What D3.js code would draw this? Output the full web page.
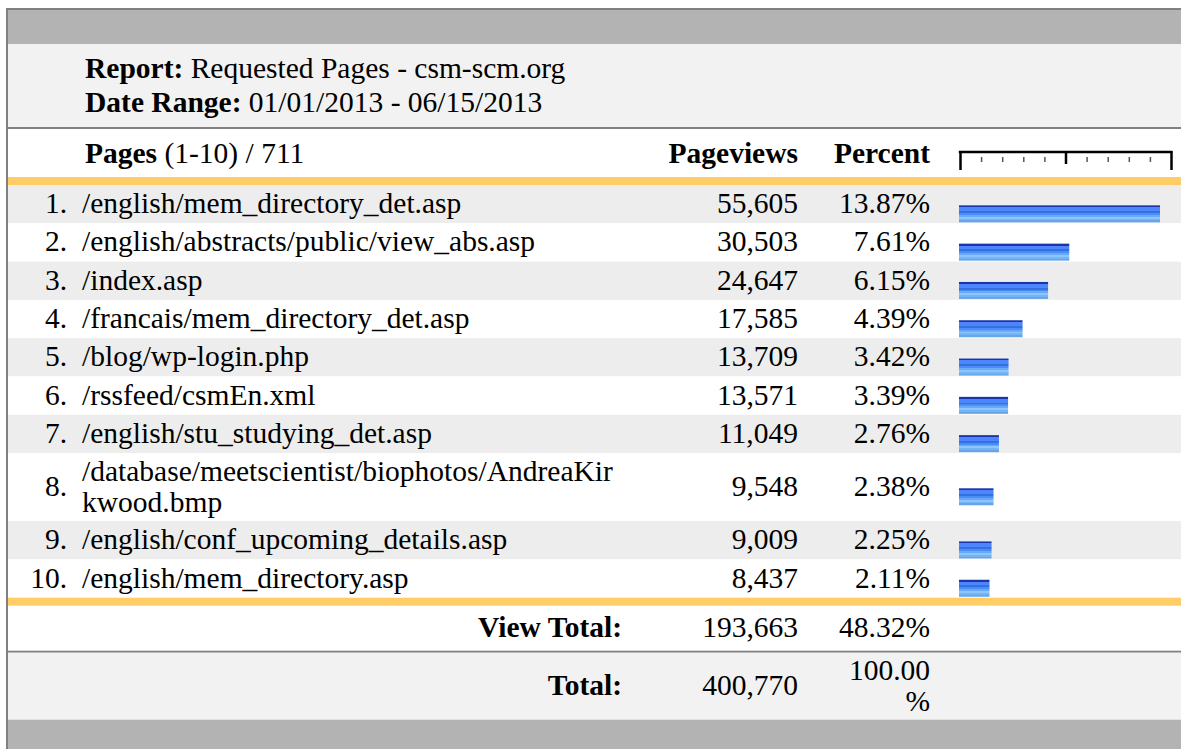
<!DOCTYPE html>
<html>
<head>
<meta charset="utf-8">
<script src="https://cdnjs.cloudflare.com/ajax/libs/d3/7.8.5/d3.min.js"></script>
<style>
  body { margin: 0; background: #fff; }
  svg text { font-family: "Liberation Serif", "Times New Roman", serif; font-size: 29.5px; fill: #000; }
  .b { font-weight: bold; }
</style>
</head>
<body>
<svg width="1181" height="749"></svg>
<script>
// report data
var reportName = "Requested Pages - csm-scm.org";
var dateRange = "01/01/2013 - 06/15/2013";
var pageCount = 711;
var ranks = [1, 2, 3, 4, 5, 6, 7, 8, 9, 10];
var pages = [
  "/english/mem_directory_det.asp",
  "/english/abstracts/public/view_abs.asp",
  "/index.asp",
  "/francais/mem_directory_det.asp",
  "/blog/wp-login.php",
  "/rssfeed/csmEn.xml",
  "/english/stu_studying_det.asp",
  "/database/meetscientist/biophotos/AndreaKirkwood.bmp",
  "/english/conf_upcoming_details.asp",
  "/english/mem_directory.asp"
];
var pageviews = [55605, 30503, 24647, 17585, 13709, 13571, 11049, 9548, 9009, 8437];
var percents = [13.87, 7.61, 6.15, 4.39, 3.42, 3.39, 2.76, 2.38, 2.25, 2.11];
var viewTotal = 193663, viewTotalPct = 48.32;
var grandTotal = 400770, grandTotalPct = 100.00;

var svg = d3.select('svg');
var W = 1181;
var fmtNum = d3.format(',');
var fmtPct = function(v) { return d3.format('.2f')(v) + '%'; };

var pathX = 82, pathW = 538;
var viewsX = 798, pctX = 930, pctW = 98;
var barX = 959;
var lineH = 31;

// wrap a string char by char into lines no wider than maxW
var wrapText = function(str, maxW, cls) {
  var probe = svg.append('text').attr('class', cls || null);
  var lines = [];
  var cur = '';
  for (var i = 0; i < str.length; i++) {
    probe.text(cur + str[i]);
    if (cur.length && probe.node().getComputedTextLength() > maxW) {
      lines.push(cur);
      cur = str[i];
    } else {
      cur += str[i];
    }
  }
  lines.push(cur);
  probe.remove();
  return lines;
};

var drawLines = function(lines, x, cy, anchor, cls) {
  var n = lines.length;
  lines.forEach(function(l, i) {
    svg.append('text')
      .attr('class', cls || null)
      .attr('x', x)
      .attr('y', cy + 9 + (i - (n - 1) / 2) * lineH)
      .attr('text-anchor', anchor)
      .text(l);
  });
};

// backgrounds
svg.append('rect').attr('x', 8).attr('y', 9).attr('width', W).attr('height', 35).attr('fill', '#b3b3b3');
svg.append('rect').attr('x', 8).attr('y', 44).attr('width', W).attr('height', 83).attr('fill', '#f2f2f2');
svg.append('rect').attr('x', 8).attr('y', 127).attr('width', W).attr('height', 2).attr('fill', '#808080');

// report header
var t1 = svg.append('text').attr('x', 85).attr('y', 78);
t1.append('tspan').attr('class', 'b').text('Report:');
t1.append('tspan').text(' ' + reportName);
var t2 = svg.append('text').attr('x', 85).attr('y', 112);
t2.append('tspan').attr('class', 'b').text('Date Range:');
t2.append('tspan').text(' ' + dateRange);

// column headers
var t3 = svg.append('text').attr('x', 85).attr('y', 163);
t3.append('tspan').attr('class', 'b').text('Pages');
t3.append('tspan').text(' (1-' + ranks.length + ') / ' + pageCount);
svg.append('text').attr('class', 'b').attr('x', viewsX).attr('y', 163).attr('text-anchor', 'end').text('Pageviews');
svg.append('text').attr('class', 'b').attr('x', pctX).attr('y', 163).attr('text-anchor', 'end').text('Percent');

// ruler on top of bar column, built from an axis
var ruler = d3.scaleLinear().domain([0, 10]).range([barX + 1, 1171]);
var rulerG = svg.append('g').attr('transform', 'translate(0,152)');
rulerG.call(d3.axisBottom(ruler).ticks(10).tickSize(0).tickFormat(''));
rulerG.select('.domain').remove();
rulerG.selectAll('.tick').each(function(d) {
  var g = d3.select(this);
  if (d === 0 || d === 10) {
    g.append('line').attr('y1', -1).attr('y2', 18).attr('stroke', '#000').attr('stroke-width', 2.5);
  } else if (d === 5) {
    g.append('line').attr('y1', -1).attr('y2', 12).attr('stroke', '#000').attr('stroke-width', 2.5);
  } else {
    g.append('line').attr('y1', 5).attr('y2', 10).attr('stroke', '#555').attr('stroke-width', 1.5);
  }
});
rulerG.append('line').attr('x1', ruler(0) - 1.2).attr('x2', ruler(10) + 1.2).attr('y1', 0).attr('y2', 0)
  .attr('stroke', '#000').attr('stroke-width', 2.5);

// bar gradient
var grad = svg.append('defs').append('linearGradient').attr('id', 'barGrad')
  .attr('x1', 0).attr('y1', 0).attr('x2', 0).attr('y2', 1);
var stripes = ['#1a35a8', '#4d85fd', '#4d85fd', '#3570e0', '#4b8df5', '#6aa8f8', '#8ac6ff', '#75b3f3', '#68a5e8'];
stripes.forEach(function(c, i) {
  grad.append('stop').attr('offset', i / stripes.length).attr('stop-color', c);
  grad.append('stop').attr('offset', (i + 1) / stripes.length).attr('stop-color', c);
});

// orange rule under header
var yPos = 177;
svg.append('rect').attr('x', 8).attr('y', yPos).attr('width', W).attr('height', 8).attr('fill', '#ffcc66');
yPos += 8;

var x = d3.scaleLinear().domain([0, d3.max(pageviews)]).range([0, 201]);

ranks.forEach(function(r, i) {
  var lines = wrapText(pages[i], pathW);
  var h = lines.length > 1 ? 68 : 38.3;
  var cy = yPos + h / 2;
  svg.append('rect').attr('x', 8).attr('y', yPos).attr('width', W).attr('height', h)
    .attr('fill', i % 2 === 0 ? '#ededed' : '#ffffff');
  svg.append('text').attr('x', 67).attr('y', cy + 9).attr('text-anchor', 'end').text(r + '.');
  drawLines(lines, pathX, cy, 'start');
  svg.append('text').attr('x', viewsX).attr('y', cy + 9).attr('text-anchor', 'end').text(fmtNum(pageviews[i]));
  drawLines(wrapText(fmtPct(percents[i]), pctW), pctX, cy, 'end');
  svg.append('rect').attr('x', barX).attr('y', cy + 1.2).attr('width', x(pageviews[i])).attr('height', 17)
    .attr('fill', 'url(#barGrad)');
  yPos += h;
});

// orange rule under rows
svg.append('rect').attr('x', 8).attr('y', yPos).attr('width', W).attr('height', 8).attr('fill', '#ffcc66');
yPos += 8;

// view total
var cyV = yPos + 22.5;
svg.append('text').attr('class', 'b').attr('x', 622).attr('y', cyV + 9).attr('text-anchor', 'end').text('View Total:');
svg.append('text').attr('x', viewsX).attr('y', cyV + 9).attr('text-anchor', 'end').text(fmtNum(viewTotal));
drawLines(wrapText(fmtPct(viewTotalPct), pctW), pctX, cyV, 'end');
yPos += 45;
svg.append('rect').attr('x', 8).attr('y', yPos).attr('width', W).attr('height', 2).attr('fill', '#808080');
yPos += 2;

// grand total
svg.append('rect').attr('x', 8).attr('y', yPos).attr('width', W).attr('height', 67).attr('fill', '#f2f2f2');
var cyT = yPos + 33.5;
svg.append('text').attr('class', 'b').attr('x', 622).attr('y', cyT + 9).attr('text-anchor', 'end').text('Total:');
svg.append('text').attr('x', viewsX).attr('y', cyT + 9).attr('text-anchor', 'end').text(fmtNum(grandTotal));
drawLines(wrapText(fmtPct(grandTotalPct), pctW), pctX, cyT, 'end');
yPos += 67;
svg.append('rect').attr('x', 8).attr('y', yPos).attr('width', W).attr('height', 749 - yPos).attr('fill', '#b3b3b3');

// outer border (left and top)
svg.append('rect').attr('x', 6).attr('y', 8).attr('width', 2).attr('height', 749).attr('fill', '#808080');
svg.append('rect').attr('x', 6).attr('y', 8).attr('width', W).attr('height', 2).attr('fill', '#808080');
</script>
</body>
</html>
